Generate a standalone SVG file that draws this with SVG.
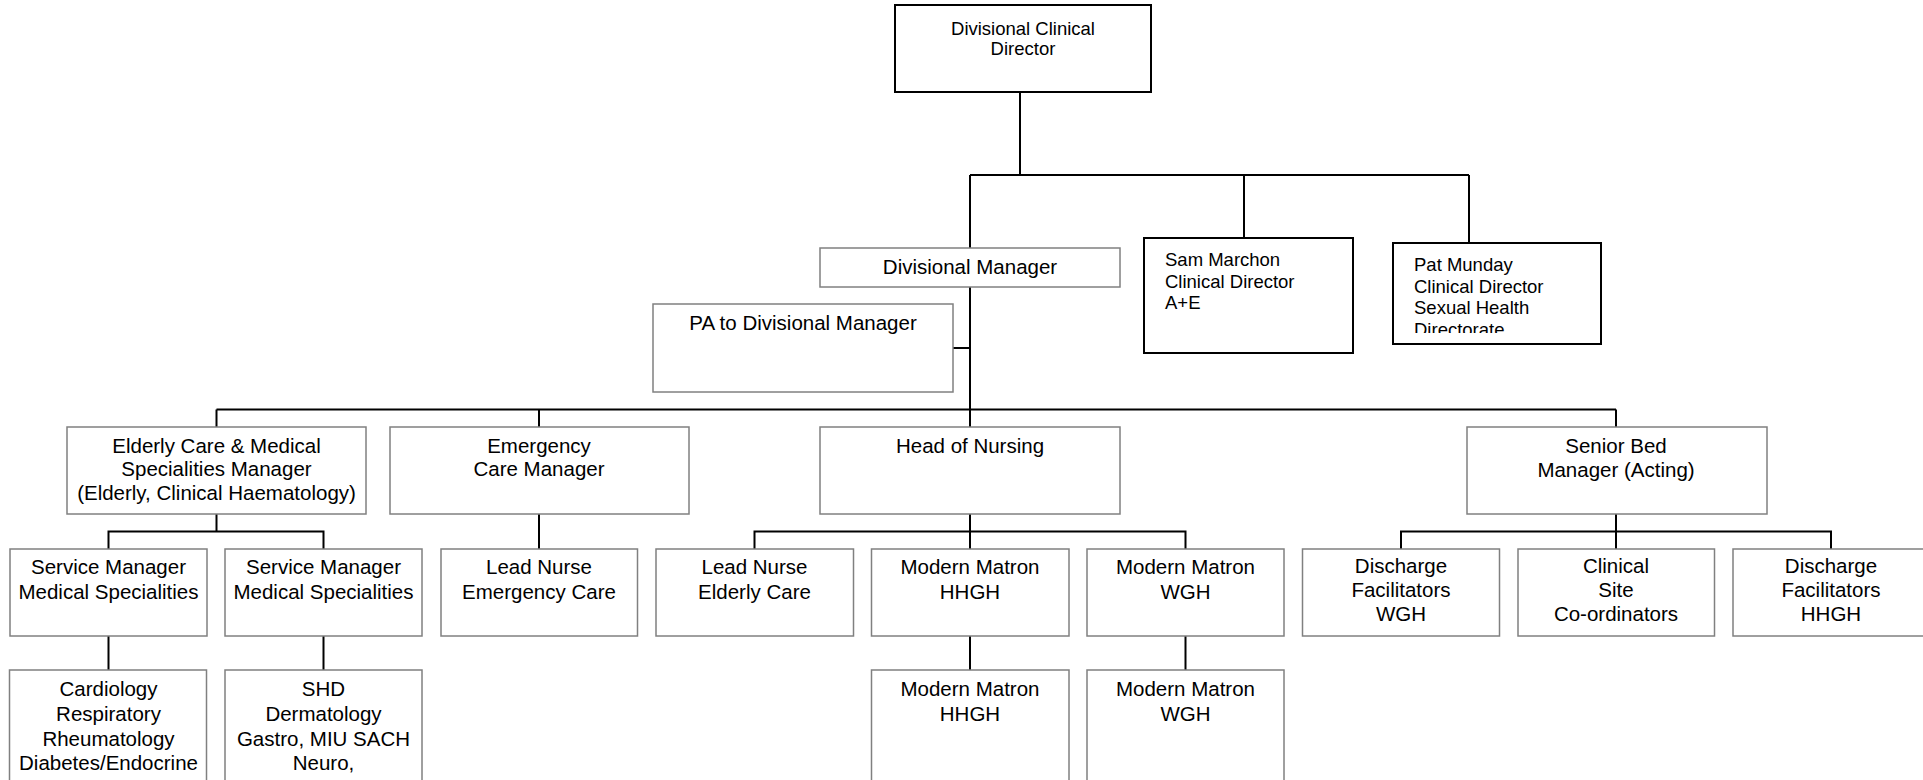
<svg xmlns="http://www.w3.org/2000/svg" width="1923" height="780" viewBox="0 0 1923 780">
  <style>
    .bg { fill: #ffffff; }
    .box { fill: #ffffff; stroke: #808080; stroke-width: 1.5; }
    .boxk { fill: #ffffff; stroke: #000000; stroke-width: 2; }
    .wire { fill: none; stroke: #000000; stroke-width: 2; }
    .t { font-family: "Liberation Sans", Arial, sans-serif; font-size: 20.5px; fill: #000000; text-anchor: middle; }
    .tk { font-family: "Liberation Sans", Arial, sans-serif; font-size: 18.5px; fill: #000000; }
    .mid { text-anchor: middle; }
  </style>
  <defs>
    <clipPath id="patClip">
      <rect x="1393" y="243" width="208" height="90"/>
    </clipPath>
  </defs>
  <rect class="bg" x="0" y="0" width="1923" height="780"/>

  <!-- connectors -->
  <g id="connectors">
    <!-- director to upper bus -->
    <path class="wire" d="M1020 92 V175"/>
    <path class="wire" d="M970 175 H1469"/>
    <path class="wire" d="M970 175 V248"/>
    <path class="wire" d="M1244 175 V238"/>
    <path class="wire" d="M1469 175 V243"/>
    <!-- divisional manager trunk -->
    <path class="wire" d="M970 287 V427"/>
    <path class="wire" d="M953 348 H970"/>
    <!-- managers bus -->
    <path class="wire" d="M216.5 409.5 H1616"/>
    <path class="wire" d="M216.5 409.5 V427"/>
    <path class="wire" d="M539 409.5 V427"/>
    <path class="wire" d="M1616 409.5 V427"/>
    <!-- elderly care branch -->
    <path class="wire" d="M216.5 514 V531.5"/>
    <path class="wire" d="M108.5 549 V531.5 H323.5 V549"/>
    <path class="wire" d="M108.5 636 V670"/>
    <path class="wire" d="M323.5 636 V670"/>
    <!-- emergency branch -->
    <path class="wire" d="M539 514 V549"/>
    <!-- nursing branch -->
    <path class="wire" d="M970 514 V549"/>
    <path class="wire" d="M754.5 549 V531.5 H1185.5 V549"/>
    <path class="wire" d="M970 636 V670"/>
    <path class="wire" d="M1185.5 636 V670"/>
    <!-- bed management branch -->
    <path class="wire" d="M1616 514 V549"/>
    <path class="wire" d="M1401 549 V531.5 H1831 V549"/>
  </g>

  <!-- top level -->
  <g id="divisional-clinical-director">
    <rect class="boxk" x="895" y="5" width="256" height="87"/>
    <text class="tk mid" x="1023" y="35">Divisional Clinical</text>
    <text class="tk mid" x="1023" y="55">Director</text>
  </g>

  <g id="divisional-manager">
    <rect class="box" x="820" y="248" width="300" height="39"/>
    <text class="t" x="970" y="274">Divisional Manager</text>
  </g>

  <g id="pa-divisional-manager">
    <rect class="box" x="653" y="304" width="300" height="88"/>
    <text class="t" x="803" y="330">PA to Divisional Manager</text>
  </g>

  <g id="clinical-director-ae">
    <rect class="boxk" x="1144" y="238" width="209" height="115"/>
    <text class="tk" x="1165" y="265.5">Sam Marchon</text>
    <text class="tk" x="1165" y="287.5">Clinical Director</text>
    <text class="tk" x="1165" y="309">A+E</text>
  </g>

  <g id="clinical-director-sexual-health">
    <rect class="boxk" x="1393" y="243" width="208" height="101"/>
    <g clip-path="url(#patClip)">
      <text class="tk" x="1414" y="271">Pat Munday</text>
      <text class="tk" x="1414" y="292.5">Clinical Director</text>
      <text class="tk" x="1414" y="314">Sexual Health</text>
      <text class="tk" x="1414" y="335.5">Directorate</text>
    </g>
  </g>

  <!-- managers -->
  <g id="elderly-care-manager">
    <rect class="box" x="67" y="427" width="299" height="87"/>
    <text class="t" x="216.5" y="452.5">Elderly Care &amp; Medical</text>
    <text class="t" x="216.5" y="476">Specialities Manager</text>
    <text class="t" x="216.5" y="499.5">(Elderly, Clinical Haematology)</text>
  </g>

  <g id="emergency-care-manager">
    <rect class="box" x="390" y="427" width="299" height="87"/>
    <text class="t" x="539" y="452.5">Emergency</text>
    <text class="t" x="539" y="476">Care Manager</text>
  </g>

  <g id="head-of-nursing">
    <rect class="box" x="820" y="427" width="300" height="87"/>
    <text class="t" x="970" y="452.5">Head of Nursing</text>
  </g>

  <g id="senior-bed-manager">
    <rect class="box" x="1467" y="427" width="300" height="87"/>
    <text class="t" x="1616" y="452.5">Senior Bed</text>
    <text class="t" x="1616" y="477">Manager (Acting)</text>
  </g>

  <!-- third level -->
  <g id="service-manager-1">
    <rect class="box" x="10" y="549" width="197" height="87"/>
    <text class="t" x="108.5" y="574">Service Manager</text>
    <text class="t" x="108.5" y="598.5">Medical Specialities</text>
  </g>

  <g id="service-manager-2">
    <rect class="box" x="225" y="549" width="197" height="87"/>
    <text class="t" x="323.5" y="574">Service Manager</text>
    <text class="t" x="323.5" y="598.5">Medical Specialities</text>
  </g>

  <g id="lead-nurse-emergency">
    <rect class="box" x="441" y="549" width="196.5" height="87"/>
    <text class="t" x="539" y="574">Lead Nurse</text>
    <text class="t" x="539" y="598.5">Emergency Care</text>
  </g>

  <g id="lead-nurse-elderly">
    <rect class="box" x="656" y="549" width="197.5" height="87"/>
    <text class="t" x="754.5" y="574">Lead Nurse</text>
    <text class="t" x="754.5" y="598.5">Elderly Care</text>
  </g>

  <g id="matron-hhgh">
    <rect class="box" x="871.5" y="549" width="197.5" height="87"/>
    <text class="t" x="970" y="574">Modern Matron</text>
    <text class="t" x="970" y="598.5">HHGH</text>
  </g>

  <g id="matron-wgh">
    <rect class="box" x="1087" y="549" width="197" height="87"/>
    <text class="t" x="1185.5" y="574">Modern Matron</text>
    <text class="t" x="1185.5" y="598.5">WGH</text>
  </g>

  <g id="discharge-wgh">
    <rect class="box" x="1302.5" y="549" width="197" height="87"/>
    <text class="t" x="1401" y="573">Discharge</text>
    <text class="t" x="1401" y="597">Facilitators</text>
    <text class="t" x="1401" y="621">WGH</text>
  </g>

  <g id="site-coordinators">
    <rect class="box" x="1518" y="549" width="196.5" height="87"/>
    <text class="t" x="1616" y="573">Clinical</text>
    <text class="t" x="1616" y="597">Site</text>
    <text class="t" x="1616" y="621">Co-ordinators</text>
  </g>

  <g id="discharge-hhgh">
    <rect class="box" x="1733" y="549" width="197" height="87"/>
    <text class="t" x="1831" y="573">Discharge</text>
    <text class="t" x="1831" y="597">Facilitators</text>
    <text class="t" x="1831" y="621">HHGH</text>
  </g>

  <!-- fourth level -->
  <g id="specialities-list-1">
    <rect class="box" x="9.5" y="670" width="197" height="130"/>
    <text class="t" x="108.5" y="696">Cardiology</text>
    <text class="t" x="108.5" y="720.5">Respiratory</text>
    <text class="t" x="108.5" y="745.5">Rheumatology</text>
    <text class="t" x="108.5" y="770">Diabetes/Endocrine</text>
  </g>

  <g id="specialities-list-2">
    <rect class="box" x="225" y="670" width="197" height="130"/>
    <text class="t" x="323.5" y="696">SHD</text>
    <text class="t" x="323.5" y="720.5">Dermatology</text>
    <text class="t" x="323.5" y="745.5">Gastro, MIU SACH</text>
    <text class="t" x="323.5" y="770">Neuro,</text>
  </g>

  <g id="matron-hhgh-2">
    <rect class="box" x="871.5" y="670" width="197.5" height="130"/>
    <text class="t" x="970" y="696">Modern Matron</text>
    <text class="t" x="970" y="720.5">HHGH</text>
  </g>

  <g id="matron-wgh-2">
    <rect class="box" x="1087" y="670" width="197" height="130"/>
    <text class="t" x="1185.5" y="696">Modern Matron</text>
    <text class="t" x="1185.5" y="720.5">WGH</text>
  </g>
</svg>
